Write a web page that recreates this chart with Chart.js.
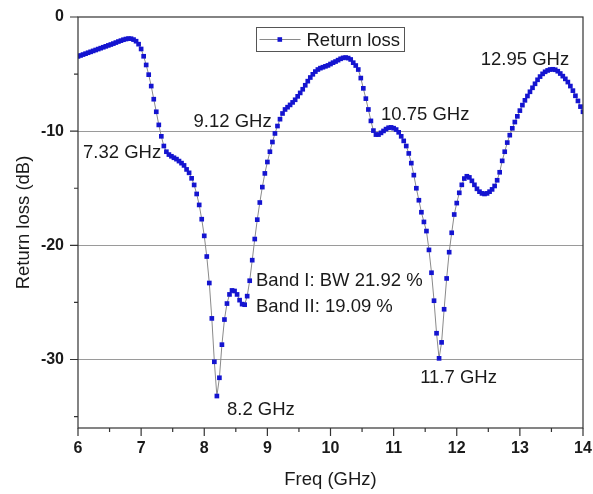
<!DOCTYPE html>
<html>
<head>
<script src="https://cdn.jsdelivr.net/npm/chart.js@4.4.1/dist/chart.umd.min.js"></script>
<style>
  html, body { margin: 0; padding: 0; background: #fff; }
  #wrap { width: 593px; height: 494px; position: relative; }
</style>
</head>
<body>
<div id="wrap"><canvas id="chart" width="593" height="494"></canvas></div>
<script>
// frequency sweep (GHz), 0.04 GHz step
const freq = [
  6, 6.04, 6.08, 6.12, 6.16, 6.2, 6.24, 6.28, 6.32, 6.36, 6.4, 6.44, 6.48, 6.52, 6.56, 6.6, 6.64, 6.68, 6.72, 6.76, 6.8, 6.84, 6.88, 6.92, 6.96,
  7, 7.04, 7.08, 7.12, 7.16, 7.2, 7.24, 7.28, 7.32, 7.36, 7.4, 7.44, 7.48, 7.52, 7.56, 7.6, 7.64, 7.68, 7.72, 7.76, 7.8, 7.84, 7.88, 7.92, 7.96,
  8, 8.04, 8.08, 8.12, 8.16, 8.2, 8.24, 8.28, 8.32, 8.36, 8.4, 8.44, 8.48, 8.52, 8.56, 8.6, 8.64, 8.68, 8.72, 8.76, 8.8, 8.84, 8.88, 8.92, 8.96,
  9, 9.04, 9.08, 9.12, 9.16, 9.2, 9.24, 9.28, 9.32, 9.36, 9.4, 9.44, 9.48, 9.52, 9.56, 9.6, 9.64, 9.68, 9.72, 9.76, 9.8, 9.84, 9.88, 9.92, 9.96,
  10, 10.04, 10.08, 10.12, 10.16, 10.2, 10.24, 10.28, 10.32, 10.36, 10.4, 10.44, 10.48, 10.52, 10.56, 10.6, 10.64, 10.68, 10.72, 10.76, 10.8, 10.84, 10.88, 10.92, 10.96,
  11, 11.04, 11.08, 11.12, 11.16, 11.2, 11.24, 11.28, 11.32, 11.36, 11.4, 11.44, 11.48, 11.52, 11.56, 11.6, 11.64, 11.68, 11.72, 11.76, 11.8, 11.84, 11.88, 11.92, 11.96,
  12, 12.04, 12.08, 12.12, 12.16, 12.2, 12.24, 12.28, 12.32, 12.36, 12.4, 12.44, 12.48, 12.52, 12.56, 12.6, 12.64, 12.68, 12.72, 12.76, 12.8, 12.84, 12.88, 12.92, 12.96,
  13, 13.04, 13.08, 13.12, 13.16, 13.2, 13.24, 13.28, 13.32, 13.36, 13.4, 13.44, 13.48, 13.52, 13.56, 13.6, 13.64, 13.68, 13.72, 13.76, 13.8, 13.84, 13.88, 13.92, 13.96,
  14
];

// return loss (dB)
const returnLoss = [
  -3.45, -3.37, -3.29, -3.21, -3.13, -3.05, -2.97, -2.89, -2.81, -2.73, -2.65, -2.57, -2.49, -2.41, -2.33, -2.24, -2.15, -2.07, -1.99, -1.93, -1.89, -1.9, -1.98, -2.12, -2.38,
  -2.8, -3.44, -4.2, -5.05, -6.05, -7.2, -8.3, -9.45, -10.45, -11.3, -11.8, -12.05, -12.2, -12.33, -12.45, -12.62, -12.8, -13.0, -13.35, -13.65, -14.13, -14.71, -15.5, -16.46, -17.71,
  -19.17, -20.98, -23.3, -26.4, -30.2, -33.2, -31.6, -28.7, -26.5, -25.1, -24.3, -23.95, -24.0, -24.3, -24.8, -25.15, -25.2, -24.45, -23.1, -21.3, -19.45, -17.75, -16.25, -14.9, -13.7,
  -12.7, -11.8, -10.95, -10.2, -9.55, -8.95, -8.45, -8.1, -7.9, -7.7, -7.48, -7.25, -6.95, -6.65, -6.33, -5.98, -5.62, -5.3, -5.02, -4.78, -4.6, -4.48, -4.4, -4.32, -4.24,
  -4.12, -4.0, -3.9, -3.78, -3.66, -3.58, -3.55, -3.6, -3.72, -4.0, -4.25, -4.6, -5.35, -6.25, -7.15, -8.1, -9.1, -9.95, -10.3, -10.3, -10.15, -9.98, -9.82, -9.7, -9.67,
  -9.74, -9.86, -10.1, -10.45, -10.85, -11.3, -11.95, -12.8, -13.85, -15.0, -16.05, -17.1, -17.95, -18.75, -20.4, -22.4, -24.85, -27.7, -29.9, -28.5, -25.6, -22.9, -20.6, -18.9, -17.3,
  -16.3, -15.4, -14.7, -14.15, -13.95, -14.05, -14.35, -14.7, -15.05, -15.3, -15.45, -15.5, -15.45, -15.3, -15.1, -14.8, -14.3, -13.6, -12.6, -11.8, -11.0, -10.35, -9.75, -9.2, -8.7,
  -8.2, -7.72, -7.3, -6.92, -6.55, -6.2, -5.85, -5.5, -5.22, -4.98, -4.8, -4.68, -4.6, -4.58, -4.62, -4.75, -4.95, -5.18, -5.42, -5.7, -6.05, -6.45, -6.9, -7.35, -7.85,
  -8.3
];

const xMajorTicks = [6, 7, 8, 9, 10, 11, 12, 13, 14];
const xMinorTicks = [6.5, 7.5, 8.5, 9.5, 10.5, 11.5, 12.5, 13.5];
const yMajorTicks = [0, -10, -20, -30];
const yMinorTicks = [-5, -15, -25, -35];

// text notes on the plot (left edge, vertical middle), in GHz / dB
const noteText = ['7.32 GHz', '9.12 GHz', '10.75 GHz', '12.95 GHz', 'Band I: BW 21.92 %', 'Band II: 19.09 %', '8.2 GHz', '11.7 GHz'];
const noteFreq = [6.08, 7.83, 10.8, 12.38, 8.82, 8.82, 8.36, 11.42];
const noteDb   = [-11.9, -9.2, -8.6, -3.8, -23.15, -25.35, -34.4, -31.6];

const FONT = "'Liberation Sans', Arial, sans-serif";
const POINT_COLOR = '#1414d0';
const LINE_COLOR = '#8a8a8a';

const decor = {
  id: 'decor',
  afterDatasetsDraw(chart) {
    const {ctx, chartArea: a, scales: {x, y}} = chart;
    ctx.save();
    // frame
    ctx.strokeStyle = '#333';
    ctx.lineWidth = 1.2;
    ctx.strokeRect(a.left, a.top, a.right - a.left, a.bottom - a.top);
    // ticks (outward)
    ctx.beginPath();
    xMajorTicks.forEach(v => { const p = x.getPixelForValue(v); ctx.moveTo(p, a.bottom); ctx.lineTo(p, a.bottom + 8); });
    xMinorTicks.forEach(v => { const p = x.getPixelForValue(v); ctx.moveTo(p, a.bottom); ctx.lineTo(p, a.bottom + 4); });
    yMajorTicks.forEach(v => { const p = y.getPixelForValue(v); ctx.moveTo(a.left, p); ctx.lineTo(a.left - 8, p); });
    yMinorTicks.forEach(v => { const p = y.getPixelForValue(v); ctx.moveTo(a.left, p); ctx.lineTo(a.left - 4, p); });
    ctx.stroke();

    // notes
    ctx.fillStyle = '#1a1a1a';
    ctx.font = '18.5px ' + FONT;
    ctx.textAlign = 'left';
    ctx.textBaseline = 'middle';
    noteText.forEach((t, i) => {
      ctx.fillText(t, x.getPixelForValue(noteFreq[i]), y.getPixelForValue(noteDb[i]));
    });

    // legend
    const lx = 256.5, ly = 27.5, lw = 148, lh = 24;
    ctx.strokeStyle = '#555';
    ctx.lineWidth = 1;
    ctx.strokeRect(lx, ly, lw, lh);
    const my = ly + lh / 2;
    ctx.strokeStyle = LINE_COLOR;
    ctx.beginPath();
    ctx.moveTo(lx + 3, my);
    ctx.lineTo(lx + 44, my);
    ctx.stroke();
    ctx.fillStyle = POINT_COLOR;
    ctx.fillRect(lx + 21, my - 2.3, 4.6, 4.6);
    ctx.fillStyle = '#1a1a1a';
    ctx.fillText('Return loss', lx + 50, my + 1);
    ctx.restore();
  }
};

new Chart(document.getElementById('chart'), {
  type: 'scatter',
  data: {
    datasets: [{
      label: 'Return loss',
      data: freq.map((f, i) => ({x: f, y: returnLoss[i]})),
      showLine: true,
      borderColor: LINE_COLOR,
      borderWidth: 1,
      pointStyle: 'rect',
      pointRadius: 3.3,
      pointBorderWidth: 0,
      pointBackgroundColor: POINT_COLOR,
      pointBorderColor: POINT_COLOR,
      tension: 0
    }]
  },
  options: {
    responsive: false,
    animation: false,
    layout: { padding: { top: 17, right: 10, left: 0, bottom: 0 } },
    plugins: { legend: { display: false }, tooltip: { enabled: false } },
    scales: {
      x: {
        type: 'linear',
        min: 6,
        max: 14,
        afterFit: s => { s.height = 66; s.paddingLeft = 0; s.paddingRight = 0; },
        grid: { display: false, drawTicks: false },
        border: { display: false },
        ticks: { stepSize: 1, padding: 11, color: '#1a1a1a', font: { family: FONT, size: 16, weight: 'bold' } },
        title: { display: true, text: 'Freq (GHz)', color: '#1a1a1a', padding: { top: 0, bottom: 3 }, font: { family: FONT, size: 18.5 } }
      },
      y: {
        min: -36,
        max: 0,
        afterFit: s => { s.width = 78; s.paddingTop = 0; s.paddingBottom = 0; },
        afterBuildTicks: s => { s.ticks = yMajorTicks.map(v => ({value: v})); },
        grid: {
          drawTicks: false,
          color: c => (c.tick && c.tick.value === 0) ? 'rgba(0,0,0,0)' : '#9a9a9a',
          lineWidth: 1
        },
        border: { display: false },
        ticks: { padding: 14, color: '#1a1a1a', font: { family: FONT, size: 16, weight: 'bold' } },
        title: { display: true, text: 'Return loss (dB)', color: '#1a1a1a', padding: { top: 13, bottom: 0 }, font: { family: FONT, size: 18.5 } }
      }
    }
  },
  plugins: [decor]
});
</script>
</body>
</html>
